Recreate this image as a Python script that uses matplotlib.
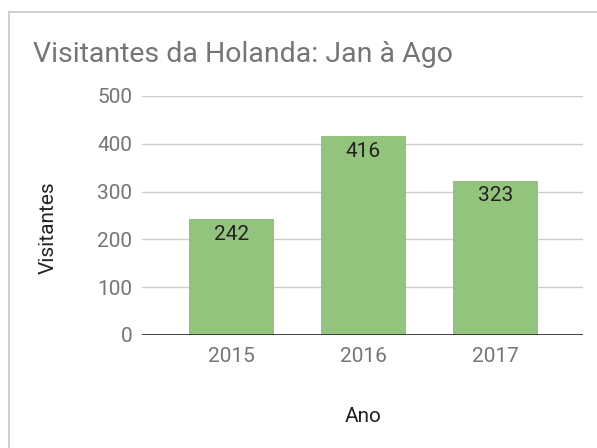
import matplotlib
matplotlib.use("Agg")
import matplotlib.pyplot as plt
from matplotlib.lines import Line2D

plt.rcParams['font.family'] = ['Roboto', 'DejaVu Sans']

years = ["2015", "2016", "2017"]
visitors = [242, 416, 323]
yticks = [0, 100, 200, 300, 400, 500]

W, H = 597, 448
fig = plt.figure(figsize=(W / 100, H / 100), dpi=100)

def fx(px):
    return px / W

def fy(py):
    return 1 - py / H

# card border
fig.add_artist(Line2D([fx(9), fx(9)], [fy(12.5), 0], color="#cccccc", lw=1.3, transform=fig.transFigure))
fig.add_artist(Line2D([fx(9), 1], [fy(12.5), fy(12.5)], color="#cccccc", lw=1.3, transform=fig.transFigure))

ax_left, ax_right, ax_top, ax_bot = 142, 583, 96, 335
ax = fig.add_axes([fx(ax_left), fy(ax_bot), (ax_right - ax_left) / W, (ax_bot - ax_top) / H])

x = list(range(len(years)))
bars = ax.bar(x, visitors, width=0.644, color="#93c47d", zorder=2)
ax.set_xlim(-0.678, 2.663)
ax.set_ylim(0, 500)
ax.set_yticks(yticks)
ax.set_yticklabels([str(v) for v in yticks])
ax.set_xticks(x)
ax.set_xticklabels(years)

for v in yticks[1:]:
    ax.axhline(v, color="#cccccc", lw=1.0, zorder=1)
ax.axhline(0, color="#333333", lw=1.3, zorder=3)

for s in ax.spines.values():
    s.set_visible(False)
ax.tick_params(axis="both", length=0, colors="#757575", labelsize=15)
ax.tick_params(axis="y", pad=7)
ax.tick_params(axis="x", pad=9)

for xi, v in zip(x, visitors):
    ax.annotate(str(v), (xi, v), xytext=(0, -11), textcoords="offset points",
                ha="center", va="center", fontsize=15, color="#222222", zorder=4)

fig.text(fx(33), fy(62), "Visitantes da Holanda: Jan à Ago", fontsize=20.5,
         color="#757575", ha="left", va="baseline")
fig.text(fx(363), fy(416), "Ano", fontsize=15, color="#222222", ha="center", va="center")
fig.text(fx(48), fy(228), "Visitantes", fontsize=15, color="#222222", ha="center", va="center",
         rotation=90)

fig.savefig("out.png", dpi=100)
